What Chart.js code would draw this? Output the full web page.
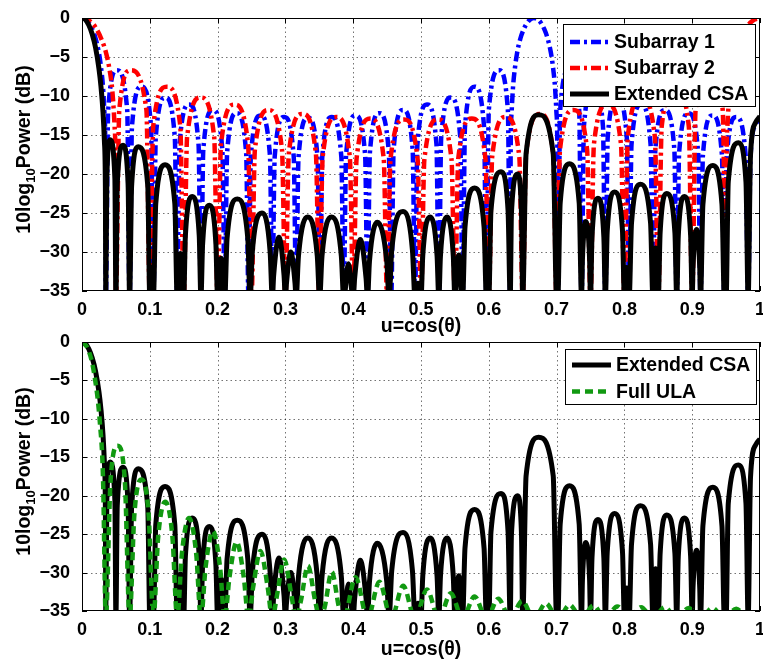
<!DOCTYPE html>
<html>
<head>
<meta charset="utf-8">
<title>Extended CSA beam patterns</title>
<script src="https://cdn.jsdelivr.net/npm/chart.js@4.4.1/dist/chart.umd.min.js"></script>
<style>
  body { margin: 0; background: #fff; }
  #wrap { position: relative; width: 763px; height: 660px; }
  #wrap canvas { position: absolute; left: 0; }
</style>
</head>
<body>
<div id="wrap">
  <canvas id="topChart" width="763" height="345" style="top:0"></canvas>
  <canvas id="bottomChart" width="763" height="330" style="top:330px"></canvas>
</div>
<script>
// tick labels
const uTicks = [0, 0.1, 0.2, 0.3, 0.4, 0.5, 0.6, 0.7, 0.8, 0.9, 1];
const dbTicks = [-35, -30, -25, -20, -15, -10, -5, 0];

// [u, dB]; nulls go just under the -35 floor
const subarray1 = [
  [0,0],[0.005,-0.15],[0.01,-0.6],[0.015,-1.4],[0.02,-2.6],[0.025,-4.5],[0.028,-6.3],[0.031,-8.9],[0.033,-12],[0.0345,-17.7],[0.0351,-36],
  [0.0386,-11.8],[0.0515,-6.7],[0.0667,-11.8],[0.0702,-36],
  [0.0737,-13.9],[0.0877,-8.8],[0.1018,-13.9],[0.1053,-36],
  [0.1088,-15.3],[0.1228,-10.2],[0.1369,-15.3],[0.1404,-36],
  [0.1439,-16.2],[0.1579,-11.1],[0.1719,-16.2],[0.1754,-36],
  [0.1789,-16.9],[0.193,-11.8],[0.207,-16.9],[0.2105,-36],
  [0.214,-17.3],[0.2281,-12.2],[0.2421,-17.3],[0.2456,-36],
  [0.2491,-17.6],[0.2632,-12.5],[0.2772,-17.6],[0.2807,-36],
  [0.2842,-17.8],[0.2982,-12.7],[0.3123,-17.8],[0.3158,-36],
  [0.3193,-17.9],[0.3333,-12.8],[0.3474,-17.9],[0.3509,-36],
  [0.3544,-17.8],[0.3684,-12.7],[0.3825,-17.8],[0.386,-36],
  [0.3895,-17.6],[0.4035,-12.5],[0.4176,-17.6],[0.4211,-36],
  [0.4246,-17.3],[0.4386,-12.2],[0.4526,-17.3],[0.4561,-36],
  [0.4596,-16.9],[0.4737,-11.8],[0.4877,-16.9],[0.4912,-36],
  [0.4947,-16.2],[0.5088,-11.1],[0.5228,-16.2],[0.5263,-36],
  [0.5298,-15.3],[0.5439,-10.2],[0.5579,-15.3],[0.5614,-36],
  [0.5649,-13.9],[0.5789,-8.8],[0.593,-13.9],[0.5965,-36],
  [0.6,-11.8],[0.6152,-6.7],[0.6281,-11.8],[0.6316,-36],
  [0.6322,-17.7],[0.6337,-12],[0.6357,-8.9],[0.6387,-6.3],[0.6417,-4.5],[0.6467,-2.6],[0.6517,-1.4],[0.6567,-0.6],[0.6617,-0.15],[0.6667,0],
  [0.6717,-0.15],[0.6767,-0.6],[0.6817,-1.4],[0.6867,-2.6],[0.6917,-4.5],[0.6947,-6.3],[0.6977,-8.9],[0.6997,-12],[0.7012,-17.7],[0.7018,-36],
  [0.7053,-11.8],[0.7182,-6.7],[0.7333,-11.8],[0.7368,-36],
  [0.7403,-13.9],[0.7544,-8.8],[0.7684,-13.9],[0.7719,-36],
  [0.7754,-15.3],[0.7895,-10.2],[0.8035,-15.3],[0.807,-36],
  [0.8105,-16.2],[0.8246,-11.1],[0.8386,-16.2],[0.8421,-36],
  [0.8456,-16.9],[0.8596,-11.8],[0.8737,-16.9],[0.8772,-36],
  [0.8807,-17.3],[0.8947,-12.2],[0.9088,-17.3],[0.9123,-36],
  [0.9158,-17.6],[0.9298,-12.5],[0.9439,-17.6],[0.9474,-36],
  [0.9509,-17.8],[0.9649,-12.7],[0.979,-17.8],[0.9825,-36],
  [0.986,-17.9],[0.9935,-13.7],[1,-12.8]
];

const subarray2 = [
  [0,0],[0.01,-0.3],[0.02,-1.2],[0.03,-3],[0.035,-4.3],[0.04,-6.3],[0.045,-9.6],[0.048,-13.8],[0.0495,-19.9],[0.05,-36],
  [0.055,-11.8],[0.0715,-6.7],[0.095,-11.8],[0.1,-36],
  [0.105,-13.9],[0.125,-8.8],[0.145,-13.9],[0.15,-36],
  [0.155,-15.3],[0.175,-10.2],[0.195,-15.3],[0.2,-36],
  [0.205,-16.2],[0.225,-11.1],[0.245,-16.2],[0.25,-36],
  [0.255,-16.9],[0.275,-11.8],[0.295,-16.9],[0.3,-36],
  [0.305,-17.4],[0.325,-12.3],[0.345,-17.4],[0.35,-36],
  [0.355,-17.8],[0.375,-12.7],[0.395,-17.8],[0.4,-36],
  [0.405,-18],[0.425,-12.9],[0.445,-18],[0.45,-36],
  [0.455,-18.1],[0.475,-13],[0.495,-18.1],[0.5,-36],
  [0.505,-18.1],[0.525,-13],[0.545,-18.1],[0.55,-36],
  [0.555,-18],[0.575,-12.9],[0.595,-18],[0.6,-36],
  [0.605,-17.8],[0.625,-12.7],[0.645,-17.8],[0.65,-36],
  [0.655,-17.4],[0.675,-12.3],[0.695,-17.4],[0.7,-36],
  [0.705,-16.9],[0.725,-11.8],[0.745,-16.9],[0.75,-36],
  [0.755,-16.2],[0.775,-11.1],[0.795,-16.2],[0.8,-36],
  [0.805,-15.3],[0.825,-10.2],[0.845,-15.3],[0.85,-36],
  [0.855,-13.9],[0.875,-8.8],[0.895,-13.9],[0.9,-36],
  [0.905,-11.8],[0.9285,-6.7],[0.945,-11.8],[0.95,-36],
  [0.9505,-19.9],[0.952,-13.8],[0.955,-9.6],[0.96,-6.3],[0.965,-4.3],[0.97,-3],[0.98,-1.2],[0.99,-0.3],[1,0]
];

const extendedCsa = [
  [0,0],[0.005,-0.2],[0.01,-0.9],[0.015,-2.05],[0.02,-3.8],[0.025,-6.5],[0.028,-8.8],[0.031,-12.1],[0.033,-15.7],[0.0345,-21.8],[0.0351,-36],
  [0.0366,-20.6],[0.0415,-15.6],[0.0485,-20.6],[0.05,-36],
  [0.052,-21.3],[0.0605,-16.3],[0.068,-21.3],[0.0702,-36],
  [0.0732,-21.5],[0.083,-16.5],[0.097,-21.5],[0.1,-36],
  [0.1027,-32],[0.1053,-36],
  [0.1088,-23.8],[0.1225,-18.8],[0.1369,-23.8],[0.1404,-36],
  [0.1452,-30.2],[0.15,-36],
  [0.1525,-27.9],[0.1625,-22.9],[0.1729,-27.9],[0.1754,-36],
  [0.1779,-29],[0.1877,-24],[0.1975,-29],[0.2,-36],
  [0.2053,-30.8],[0.2105,-36],
  [0.214,-28.2],[0.229,-23.2],[0.2445,-28.2],[0.248,-36],
  [0.2512,-30],[0.2655,-25],[0.2775,-30],[0.2807,-36],
  [0.2827,-33],[0.2905,-28.1],[0.298,-33],[0.3,-36],
  [0.3016,-34],[0.308,-30],[0.3142,-34],[0.3158,-36],
  [0.3193,-30.5],[0.333,-25.5],[0.347,-30.5],[0.3505,-36],
  [0.354,-30.5],[0.368,-25.5],[0.3825,-30.5],[0.386,-36],
  [0.393,-31.5],[0.4,-36],
  [0.4021,-33.4],[0.4105,-28.4],[0.419,-33.4],[0.4211,-36],
  [0.424,-31.2],[0.4355,-26.2],[0.4495,-31.2],[0.453,-36],
  [0.4568,-29.8],[0.4735,-24.8],[0.4874,-29.8],[0.4912,-36],
  [0.4956,-34],[0.5,-36],
  [0.5026,-30.5],[0.5135,-25.5],[0.5237,-30.5],[0.5263,-36],
  [0.5287,-30.5],[0.5385,-25.5],[0.5476,-30.5],[0.55,-36],
  [0.5557,-30.4],[0.5614,-36],
  [0.5649,-26.8],[0.579,-21.8],[0.593,-26.8],[0.5965,-36],
  [0.6,-36],[0.6032,-24.7],[0.618,-19.7],[0.6284,-24.7],[0.6316,-36],
  [0.6334,-25],[0.6425,-20],[0.6482,-25],[0.65,-36],
  [0.655,-17.4],[0.6735,-12.4],[0.695,-17.4],[0.7,-36],
  [0.7018,-36],[0.7053,-23.7],[0.719,-18.7],[0.7333,-23.7],[0.7368,-36],
  [0.7381,-31],[0.7432,-26.1],[0.7487,-31],[0.75,-36],
  [0.7522,-28.1],[0.761,-23.1],[0.7697,-28.1],[0.7719,-36],
  [0.7747,-27.3],[0.7855,-22.3],[0.7972,-27.3],[0.8,-36],
  [0.8035,-32],[0.807,-36],
  [0.8105,-26.3],[0.8235,-21.3],[0.8386,-26.3],[0.8421,-36],
  [0.846,-29.5],[0.85,-36],
  [0.8527,-27.5],[0.8625,-22.5],[0.8745,-27.5],[0.8772,-36],
  [0.8795,-27.9],[0.8885,-22.9],[0.8977,-27.9],[0.9,-36],
  [0.9012,-32],[0.9065,-27.1],[0.9111,-32],[0.9123,-36],
  [0.9158,-23.9],[0.9305,-18.9],[0.9439,-23.9],[0.9474,-36],
  [0.95,-36],[0.9532,-21],[0.968,-16],[0.9793,-21],[0.9825,-36],
  [0.986,-17.6],[0.9935,-13.4],[1,-12.6]
];

const fullUla = [
  [0,0],[0.0088,-0.9],[0.0175,-3.9],[0.0263,-10.4],[0.031,-17.7],[0.0351,-36],
  [0.0421,-18.1],[0.0526,-13.5],[0.0632,-18.1],[0.0702,-36],
  [0.0772,-22.5],[0.0877,-17.9],[0.0983,-22.5],[0.1053,-36],
  [0.1123,-25.4],[0.1228,-20.8],[0.1334,-25.4],[0.1404,-36],
  [0.1474,-27.5],[0.1579,-22.9],[0.1684,-27.5],[0.1754,-36],
  [0.1824,-29.2],[0.193,-24.6],[0.2035,-29.2],[0.2105,-36],
  [0.2175,-30.6],[0.2281,-26],[0.2386,-30.6],[0.2456,-36],
  [0.2526,-31.8],[0.2632,-27.2],[0.2737,-31.8],[0.2807,-36],
  [0.2877,-32.9],[0.2982,-28.3],[0.3088,-32.9],[0.3158,-36],
  [0.3228,-33.7],[0.3333,-29.1],[0.3439,-33.7],[0.3509,-36],
  [0.3579,-34.5],[0.3684,-29.9],[0.379,-34.5],[0.386,-36],
  [0.4035,-30.6],[0.4211,-36],
  [0.4386,-31.2],[0.4561,-36],
  [0.4737,-31.7],[0.4912,-36],
  [0.5088,-32.2],[0.5263,-36],
  [0.5439,-32.7],[0.5614,-36],
  [0.5789,-33.1],[0.5965,-36],
  [0.614,-33.4],[0.6316,-36],
  [0.6491,-33.7],[0.6667,-36],
  [0.6842,-34],[0.7018,-36],
  [0.7193,-34.2],[0.7368,-36],
  [0.7544,-34.3],[0.7719,-36],
  [0.7895,-34.4],[0.807,-36],
  [0.8246,-34.5],[0.8421,-36],
  [0.8596,-34.5],[0.8772,-36],
  [0.8947,-34.6],[0.9123,-36],
  [0.9298,-34.6],[0.9474,-36],
  [0.9649,-34.7],[0.9825,-36],
  [1,-35.2]
];

const FONT = "'Liberation Sans', Arial, Helvetica, sans-serif";

function toPoints(arr) {
  return arr.map(p => ({ x: p[0], y: p[1] }));
}

function series(label, arr, color, width, dash, order) {
  return {
    label: label,
    data: toPoints(arr),
    borderColor: color,
    borderWidth: width,
    borderDash: dash,
    borderJoinStyle: 'round',
    cubicInterpolationMode: 'monotone',
    pointRadius: 0,
    fill: false,
    clip: 0,
    order: order
  };
}

// grid, box, inner ticks, axis titles and the boxed legend (matlab style)
const frame = {
  id: 'frame',
  beforeDatasetsDraw(chart) {
    const { ctx, chartArea: a, scales: { x, y } } = chart;
    ctx.save();
    ctx.strokeStyle = 'rgba(0,0,0,0.55)';
    ctx.lineWidth = 1;
    ctx.setLineDash([1.5, 3]);
    ctx.beginPath();
    uTicks.slice(1, -1).forEach(v => {
      const px = Math.round(x.getPixelForValue(v)) + 0.5;
      ctx.moveTo(px, a.top); ctx.lineTo(px, a.bottom);
    });
    dbTicks.slice(1, -1).forEach(v => {
      const py = Math.round(y.getPixelForValue(v)) + 0.5;
      ctx.moveTo(a.left, py); ctx.lineTo(a.right, py);
    });
    ctx.stroke();
    ctx.restore();
  },
  afterDatasetsDraw(chart, args, opts) {
    const { ctx, chartArea: a, scales: { x, y } } = chart;
    ctx.save();
    ctx.setLineDash([]);
    ctx.strokeStyle = '#000';
    ctx.lineWidth = 1;
    ctx.strokeRect(a.left + 0.5, a.top + 0.5, a.right - a.left - 1, a.bottom - a.top - 1);

    // ticks pointing inwards on all four sides
    ctx.beginPath();
    uTicks.forEach(v => {
      const px = Math.round(x.getPixelForValue(v)) + 0.5;
      ctx.moveTo(px, a.bottom); ctx.lineTo(px, a.bottom - 5);
      ctx.moveTo(px, a.top); ctx.lineTo(px, a.top + 5);
    });
    dbTicks.forEach(v => {
      const py = Math.round(y.getPixelForValue(v)) + 0.5;
      ctx.moveTo(a.left, py); ctx.lineTo(a.left + 5, py);
      ctx.moveTo(a.right, py); ctx.lineTo(a.right - 5, py);
    });
    ctx.stroke();

    // legend box
    const lg = opts.legend;
    ctx.fillStyle = '#fff';
    ctx.fillRect(lg.x, lg.y, lg.w, lg.h);
    ctx.strokeRect(lg.x + 0.5, lg.y + 0.5, lg.w, lg.h);
    ctx.font = 'bold 19.5px ' + FONT;
    ctx.textAlign = 'left';
    ctx.textBaseline = 'middle';
    lg.items.forEach((idx, i) => {
      const ds = chart.data.datasets[idx];
      const ry = lg.y + lg.row0 + i * lg.gap;
      ctx.strokeStyle = ds.borderColor;
      ctx.lineWidth = ds.borderWidth;
      ctx.setLineDash(ds.borderDash);
      ctx.beginPath();
      ctx.moveTo(lg.x + 7, ry); ctx.lineTo(lg.x + 46, ry);
      ctx.stroke();
      ctx.fillStyle = '#000';
      ctx.fillText(ds.label, lg.x + 51, ry + 1);
    });

    // x title
    ctx.textAlign = 'center';
    ctx.fillText('u=cos(\u03b8)', (a.left + a.right) / 2, a.bottom + opts.titleGap);

    // y title with subscript, rotated
    const mainFont = 'bold 19.5px ' + FONT;
    const subFont = 'bold 13px ' + FONT;
    const parts = [['10log', mainFont, 0], ['10', subFont, 5], ['Power (dB)', mainFont, 0]];
    let total = 0;
    parts.forEach(p => { ctx.font = p[1]; total += ctx.measureText(p[0]).width; });
    ctx.translate(29.5, (a.top + a.bottom) / 2 - 5);
    ctx.rotate(-Math.PI / 2);
    ctx.textAlign = 'left';
    ctx.textBaseline = 'alphabetic';
    let cx = -total / 2;
    parts.forEach(p => {
      ctx.font = p[1];
      ctx.fillText(p[0], cx, p[2]);
      cx += ctx.measureText(p[0]).width;
    });
    ctx.restore();
  }
};

function makeChart(id, datasets, cfg) {
  const tickFont = { family: FONT, size: 18, weight: 'bold' };
  return new Chart(document.getElementById(id), {
    type: 'line',
    data: { datasets: datasets },
    options: {
      responsive: false,
      animation: false,
      devicePixelRatio: 1,
      events: [],
      layout: { padding: { top: cfg.top, right: 3, left: 0, bottom: 0 } },
      plugins: {
        legend: { display: false },
        tooltip: { enabled: false },
        frame: { legend: cfg.legend, titleGap: cfg.titleGap }
      },
      scales: {
        x: {
          type: 'linear',
          min: 0,
          max: 1,
          afterBuildTicks: s => { s.ticks = uTicks.map(v => ({ value: v })); },
          afterFit: s => { s.height = cfg.xHeight; s.paddingLeft = 0; s.paddingRight = 0; },
          grid: { display: false },
          border: { display: false },
          ticks: {
            padding: cfg.tickPad,
            color: '#000',
            maxRotation: 0,
            autoSkip: false,
            font: tickFont,
            callback: v => String(Math.round(v * 10) / 10)
          }
        },
        y: {
          min: -35,
          max: 0,
          afterBuildTicks: s => { s.ticks = dbTicks.map(v => ({ value: v })); },
          afterFit: s => { s.width = 82; s.paddingTop = 0; s.paddingBottom = 0; },
          grid: { display: false },
          border: { display: false },
          // matlab prints a real minus sign
          ticks: { padding: 4, color: '#000', font: tickFont, callback: v => String(v).replace('-', '\u2212') }
        }
      }
    },
    plugins: [frame]
  });
}

// top: both subarrays and the combined pattern (black on top, red over blue)
makeChart('topChart', [
  series('Extended CSA', extendedCsa, '#000000', 5, [], 0),
  series('Subarray 2', subarray2, '#ff0000', 4.5, [10, 4, 3, 4], 1),
  series('Subarray 1', subarray1, '#0000ff', 4.5, [10, 4, 3, 4], 2)
], {
  top: 18, xHeight: 54, tickPad: 0, titleGap: 36,
  legend: { x: 563, y: 24, w: 192, h: 82, row0: 18, gap: 26, items: [2, 1, 0] }
});

// bottom: combined pattern against the full ULA
makeChart('bottomChart', [
  series('Full ULA', fullUla, '#119911', 4.5, [8, 5], 0),
  series('Extended CSA', extendedCsa, '#000000', 5, [], 1)
], {
  top: 12, xHeight: 49, tickPad: 0, titleGap: 39,
  legend: { x: 565, y: 19, w: 191, h: 55, row0: 16, gap: 26.5, items: [1, 0] }
});
</script>
</body>
</html>
